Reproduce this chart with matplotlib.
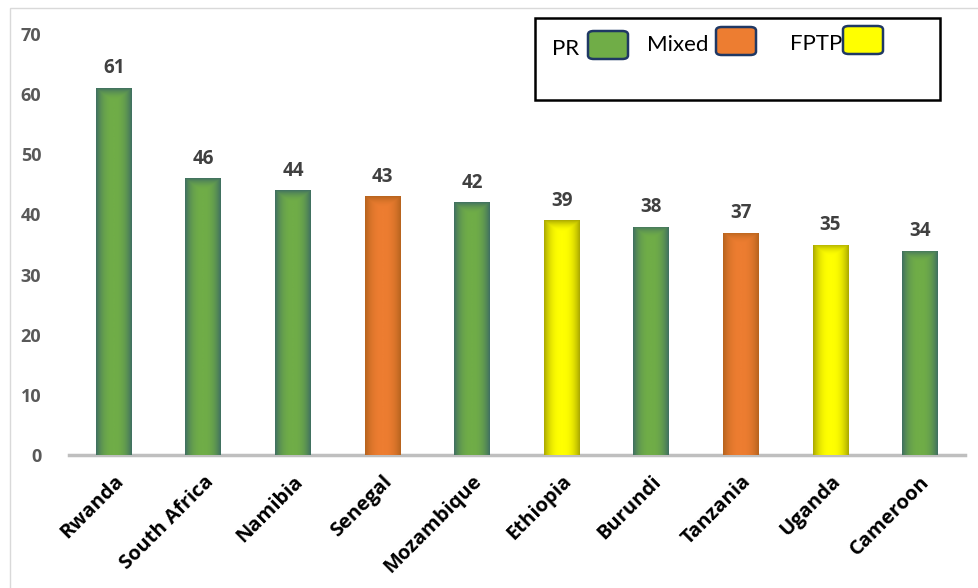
import numpy as np
import matplotlib.pyplot as plt
from matplotlib.patches import FancyBboxPatch, Rectangle
from matplotlib.colors import LinearSegmentedColormap

# Data
countries = ["Rwanda", "South Africa", "Namibia", "Senegal", "Mozambique",
             "Ethiopia", "Burundi", "Tanzania", "Uganda", "Cameroon"]
values = [61, 46, 44, 43, 42, 39, 38, 37, 35, 34]
systems = ["PR", "PR", "PR", "Mixed", "PR", "FPTP", "PR", "Mixed", "FPTP", "PR"]

fills = {"PR": "#70AD47", "Mixed": "#ED7D31", "FPTP": "#FFFF00"}
edges = {"PR": "#3f6e62", "Mixed": "#b5631d", "FPTP": "#a8a600"}

plt.rcParams['font.family'] = ['Open Sans', 'DejaVu Sans']

fig = plt.figure(figsize=(9.79, 5.88), dpi=100)
ax = fig.add_axes([0.0705, 0.2262, 0.915, 0.7158])

x = np.arange(len(countries))
bars = ax.bar(x, values, width=0.4, color=[fills[s] for s in systems], zorder=2)

# soft shading on each bar: darker sides and top, lighter centre
gx = np.linspace(-1, 1, 200)
side = np.abs(gx) ** 2.5
for b, s in zip(bars, systems):
    cmap = LinearSegmentedColormap.from_list("g", [fills[s], edges[s]])
    x0, y0 = b.get_x(), b.get_y()
    w, h = b.get_width(), b.get_height()
    npx = int(h * 6)
    gy = np.linspace(0, h * 6, npx)[:, None]
    top = np.clip(1 - (h * 6 - gy) / 12, 0, 1) ** 2
    img = np.maximum(np.tile(side, (npx, 1)), top * 0.9)
    im = ax.imshow(img, cmap=cmap, vmin=0, vmax=1, aspect='auto',
                   extent=[x0, x0 + w, y0, y0 + h], origin='lower', zorder=3,
                   interpolation='bilinear')
    im.set_clip_path(b)

for xi, v in zip(x, values):
    ax.annotate(str(v), (xi, v), xytext=(0, 7), textcoords='offset points',
                ha='center', va='bottom', fontsize=13.5, fontweight='bold',
                color='#404040')

ax.set_xlim(-0.5, len(countries) - 0.5)
ax.set_ylim(0, 70)
ax.set_yticks(range(0, 71, 10))
ax.tick_params(axis='y', length=0, labelsize=13, labelcolor='#595959', pad=20)
for t in ax.get_yticklabels():
    t.set_fontweight('bold')
ax.set_xticks(x)
ax.set_xticklabels(countries, rotation=45, ha='right', rotation_mode='anchor',
                   fontsize=14.5, fontweight='bold')
ax.tick_params(axis='x', length=0, pad=12)

for sp in ['top', 'right', 'left']:
    ax.spines[sp].set_visible(False)
ax.spines['bottom'].set_color('#BFBFBF')
ax.spines['bottom'].set_linewidth(2.5)

# outer chart frame
fig.patches.append(Rectangle((10 / 979, -0.01), 1.0, 1 - 8 / 588 + 0.01,
                             transform=fig.transFigure, fill=False,
                             edgecolor='#D9D9D9', linewidth=1))

# legend box
W, H = 979, 588
def fx(px):
    return px / W
def fy(py):
    return 1 - py / H

fig.patches.append(Rectangle((fx(535), fy(100)), fx(940) - fx(535), fy(18) - fy(100),
                             transform=fig.transFigure, fill=False,
                             edgecolor='black', linewidth=1.8, zorder=5))
legend_items = [("PR", 552, 588, 45), ("Mixed", 647, 716, 41), ("FPTP", 790, 843, 40)]
for name, tx, bx, cy in legend_items:
    fig.text(fx(tx), fy(cy + 4), name, fontsize=16, va='center', ha='left',
             family=['Lato', 'DejaVu Sans'])
    fig.patches.append(FancyBboxPatch((fx(bx), fy(cy + 14)), fx(40), 28 / H,
                                      boxstyle="round,pad=0,rounding_size=0.006",
                                      transform=fig.transFigure,
                                      facecolor=fills[name], edgecolor='#1F3864',
                                      linewidth=1.8, zorder=6))

fig.savefig("out.png", dpi=100)
